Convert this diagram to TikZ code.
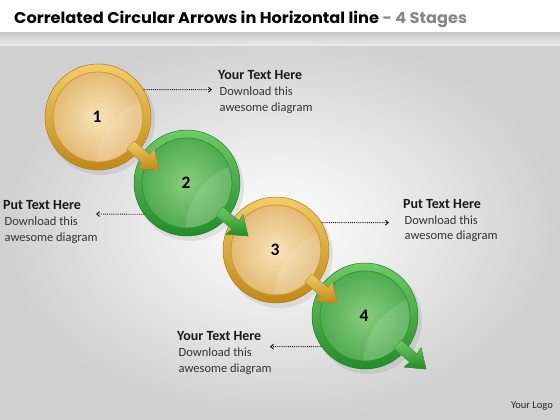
\documentclass[tikz,border=0pt]{standalone}
\usepackage{fontspec}
\setmainfont{Carlito}
\newfontfamily\titlefont{Poppins}
\usetikzlibrary{arrows.meta,calc}
\definecolor{goldD}{RGB}{192,136,22}
\definecolor{goldL}{RGB}{242,204,105}
\definecolor{goldIn}{RGB}{248,228,185}
\definecolor{goldOut}{RGB}{228,186,118}
\definecolor{goldRim}{RGB}{205,152,45}
\definecolor{grnD}{RGB}{35,140,42}
\definecolor{grnL}{RGB}{112,202,102}
\definecolor{grnIn}{RGB}{135,205,125}
\definecolor{grnOut}{RGB}{82,172,82}
\definecolor{grnRim}{RGB}{50,150,55}
\definecolor{bgOut}{RGB}{208,208,208}
\definecolor{titlegray}{RGB}{135,135,135}
\begin{document}
\begin{tikzpicture}[x=1pt,y=-1pt,
  ringgold/.style={circle, minimum size=106pt, inner sep=0pt, top color=goldL, bottom color=goldD, draw=goldD!90!black, line width=0.5pt},
  diskgold/.style={circle, minimum size=90pt, inner sep=0pt, inner color=goldIn, outer color=goldOut, draw=goldRim, line width=0.8pt},
  ringgrn/.style={circle, minimum size=106pt, inner sep=0pt, top color=grnL, bottom color=grnD, draw=grnD!90!black, line width=0.5pt},
  diskgrn/.style={circle, minimum size=90pt, inner sep=0pt, inner color=grnIn, outer color=grnOut, draw=grnRim, line width=0.8pt},
  num/.style={font=\fontsize{17.5}{17.5}\selectfont\bfseries, text=black},
  head/.style={anchor=base west, inner sep=0pt, font=\fontsize{14}{16}\selectfont\bfseries, text=black!90},
  body/.style={anchor=base west, inner sep=0pt, font=\fontsize{12.5}{15}\selectfont, text=black!80},
  conn/.style={densely dotted, line width=0.9pt, black!90, -{Straight Barb[length=3pt,width=5pt]}},
  arrgold/.style={top color=goldL, bottom color=goldD, draw=goldD!80, line width=0.3pt},
  arrgrn/.style={top color=grnL, bottom color=grnD, draw=grnD!80, line width=0.3pt}
]
\useasboundingbox (0,0) rectangle (560,420);
% background
\fill[white] (0,0) rectangle (560,420);
\shade[inner color=white, outer color=bgOut] (0,33) rectangle (560,420);
\shade[top color=black!22, bottom color=black!0, opacity=0.6] (0,33) rectangle (560,46);
% title
\node[anchor=base west, inner sep=0pt] (title) at (14,24)
  {\resizebox{453pt}{\height}{\titlefont\bfseries\fontsize{15.5}{18}\selectfont Correlated Circular Arrows in Horizontal line \textcolor{titlegray}{- 4 Stages}}};
% circles
\foreach \n/\x/\y/\s in {1/98/117/gold,2/187/183/grn,3/276/250/gold,4/365/316/grn}{
  \fill[black, opacity=0.08] (\x+3,\y+4) circle (54pt);
  \node[ring\s] (c\n) at (\x,\y) {};
  \node[disk\s] (d\n) at (\x,\y) {};
  \begin{scope}
    \clip (\x,\y) circle (44.5pt);
    \fill[white, opacity=0.13] (\x+70,\y+50) circle (72pt);
  \end{scope}
  \node[num] (n\n) at (\x-1,\y) {\n};
}
% block arrows
\foreach \n/\s in {1/gold,2/grn,3/gold,4/grn}{
  \begin{scope}[shift={(c\n.center)}, rotate=-41]
    \filldraw[arr\s] (43,-5.5) -- (64,-5.5) -- (63,-13) -- (81,0) -- (63,13) -- (64,5.5) -- (43,5.5) -- cycle;
  \end{scope}
}
% text blocks
\node[head] (h1) at (218,79.5) {Your Text Here};
\node[body] (b1a) at (219.5,95.5) {Download this};
\node[body] (b1b) at (219.5,111) {awesome diagram};
\node[head] (h2) at (3,209.5) {Put Text Here};
\node[body] (b2a) at (4.5,225.5) {Download this};
\node[body] (b2b) at (4.5,241) {awesome diagram};
\node[head] (h3) at (403,208) {Put Text Here};
\node[body] (b3a) at (404.5,224) {Download this};
\node[body] (b3b) at (404.5,239.5) {awesome diagram};
\node[head] (h4) at (177,340.5) {Your Text Here};
\node[body] (b4a) at (178.5,356.5) {Download this};
\node[body] (b4b) at (178.5,372) {awesome diagram};
\node[anchor=base east, inner sep=0pt, font=\fontsize{10.5}{12}\selectfont, text=black!85] (logo) at (553,408) {Your Logo};
% connectors
\coordinate (a1) at (212,89.7);
\coordinate (a2) at (96,214);
\coordinate (a3) at (389,222.7);
\coordinate (a4) at (270,346.7);
\draw[conn] (c1.31) -- (a1);
\draw[conn] (c2.216) -- (a2);
\draw[conn] (c3.31) -- (a3);
\draw[conn] (c4.215) -- (a4);
\end{tikzpicture}
\end{document}
